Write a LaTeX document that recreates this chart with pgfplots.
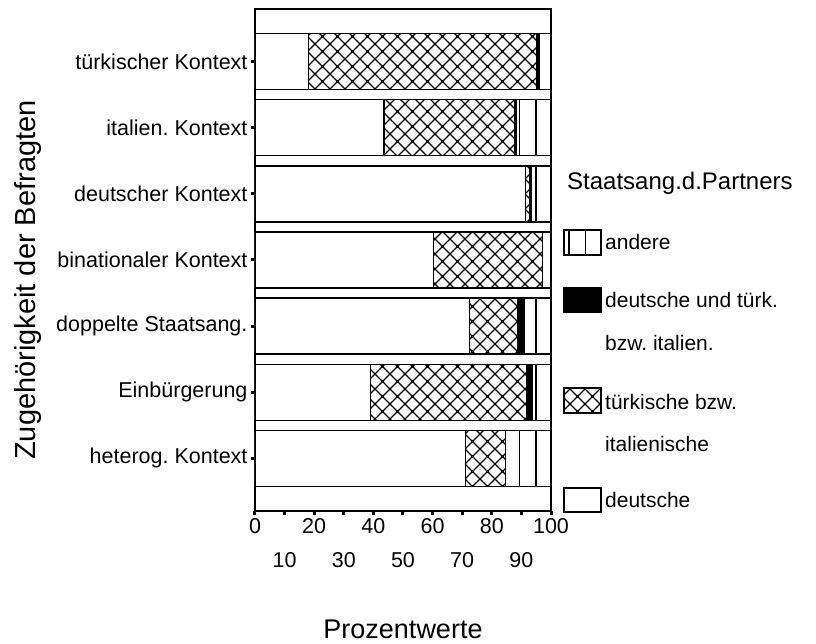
\documentclass[border=0pt]{standalone}
\usepackage{fontspec}
\setmainfont{Liberation Sans}
\usepackage{pgfplots}
\usepackage{pgfplotstable}
\pgfplotsset{compat=1.18}
\usetikzlibrary{patterns}
\frenchspacing

\pgfdeclarepatternformonly{vlinesw}{\pgfpoint{-1pt}{-1pt}}{\pgfpoint{17.5pt}{11pt}}{\pgfpoint{16.5pt}{10pt}}{%
  \pgfsetlinewidth{1.6pt}%
  \pgfpathmoveto{\pgfpoint{8pt}{-1pt}}\pgfpathlineto{\pgfpoint{8pt}{11pt}}\pgfusepathqstroke}

\pgfdeclarepatternformonly{xdots}{\pgfpoint{-1pt}{-1pt}}{\pgfpoint{16pt}{16pt}}{\pgfpoint{15pt}{15pt}}{%
  \pgfsetlinewidth{1.1pt}%
  \pgfpathmoveto{\pgfpoint{0pt}{0pt}}\pgfpathlineto{\pgfpoint{15pt}{15pt}}%
  \pgfpathmoveto{\pgfpoint{0pt}{15pt}}\pgfpathlineto{\pgfpoint{15pt}{0pt}}%
  \pgfusepathqstroke
  \pgfpathrectangle{\pgfpoint{6pt}{6pt}}{\pgfpoint{3pt}{3pt}}\pgfusepathqfill}

\pgfplotstableread{
y deutsche tuerk dt andere
1 71.1 13.4 0   15.5
2 39.1 52.7 2.0 6.2
3 72.5 16.2 2.3 9.0
4 60.4 36.8 0   2.8
5 91.3 1.5  0.5 6.7
6 43.6 44.0 0.7 11.7
7 18.0 77.2 0.8 4.0
}\datatab

\begin{document}
\begin{tikzpicture}
\begin{axis}[name=ax, scale only axis, width=296pt, height=502pt,
  xbar stacked, bar width=56pt,
  xmin=0, xmax=100, ymin=0.2, ymax=7.8,
  ytick={1,...,7},
  yticklabels={heterog. Kontext, Einbürgerung, doppelte Staatsang., binationaler Kontext, deutscher Kontext, italien. Kontext, türkischer Kontext},
  xtick={0,20,...,100},
  extra x ticks={10,30,...,90},
  extra x tick style={tick label style={yshift=-34pt}},
  xtick pos=bottom, ytick pos=left,
  tick align=outside, major tick length=4pt,
  tick style={black, line width=3pt},
  axis line style={line width=1.2pt},
  /pgf/number format/assume math mode=true,
  ticklabel style={font=\fontsize{21.5}{25}\selectfont},
  xlabel={Prozentwerte}, ylabel={Zugehörigkeit der Befragten},
  xlabel style={font=\fontsize{27}{31}\selectfont, at={(axis description cs:0.5,-0.253)}, anchor=base},
  ylabel style={font=\fontsize{29}{33}\selectfont, at={(axis description cs:-0.74,0.46)}, anchor=base},
]
\addplot[draw=black, line width=1.2pt, fill=white] table[x=deutsche, y=y] {\datatab};
\addplot[draw=black, line width=1.2pt, pattern=xdots] table[x=tuerk, y=y] {\datatab};
\addplot[draw=black, line width=1.2pt, fill=black] table[x=dt, y=y] {\datatab};
\addplot[draw=black, line width=1.2pt, pattern=vlinesw] table[x=andere, y=y] {\datatab};
\end{axis}
\begin{scope}[shift={(ax.south west)}, x=1pt, y=1pt]
  \node[anchor=base west, inner sep=0pt, font=\fontsize{24}{28}\selectfont] at (312,321) {Staatsang.d.Partners};
  \draw[line width=1.2pt, pattern=vlinesw] (309,256) rectangle (346,281);
  \draw[line width=1.2pt, fill=black] (309,199) rectangle (346,223);
  \draw[line width=1.2pt, pattern=xdots] (309,98) rectangle (346,123);
  \draw[line width=1.2pt, fill=white] (309,-1) rectangle (346,23);
  \begin{scope}[every node/.style={anchor=base west, inner sep=0pt, font=\fontsize{21}{25}\selectfont}]
    \node at (350,261) {andere};
    \node at (350,203) {deutsche und türk.};
    \node at (350,160) {bzw. italien.};
    \node at (350,101) {türkische bzw.};
    \node at (350,59) {italienische};
    \node at (350,3) {deutsche};
  \end{scope}
\end{scope}
\pgfresetboundingbox
\path (ax.south west) ++(-255pt,-133pt) rectangle ++(816pt,644pt);
\end{tikzpicture}
\end{document}
